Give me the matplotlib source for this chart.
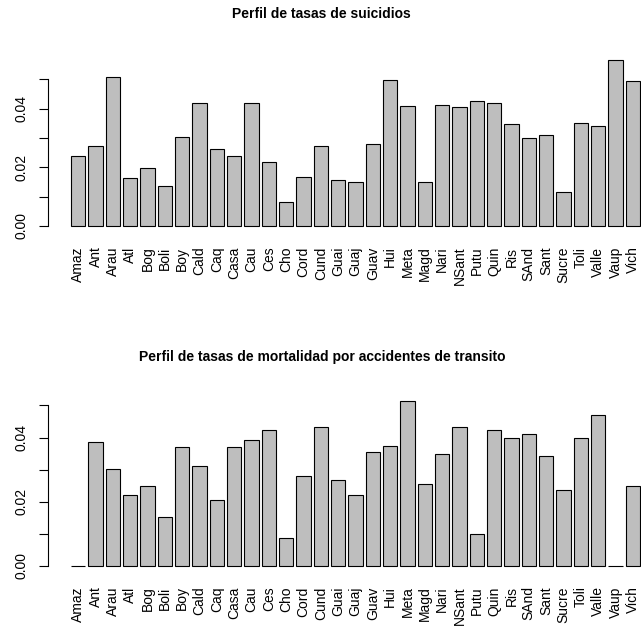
import matplotlib
matplotlib.use("Agg")
import matplotlib.pyplot as plt
import numpy as np

plt.rcParams["font.family"] = ["Liberation Sans", "DejaVu Sans"]

regiones = ["Amaz", "Ant", "Arau", "Atl", "Bog", "Boli", "Boy", "Cald", "Caq",
            "Casa", "Cau", "Ces", "Cho", "Cord", "Cund", "Guai", "Guaj", "Guav",
            "Hui", "Meta", "Magd", "Nari", "NSant", "Putu", "Quin", "Ris",
            "SAnd", "Sant", "Sucre", "Toli", "Valle", "Vaup", "Vich"]

suicidios = [0.0239, 0.0273, 0.0507, 0.0163, 0.0199, 0.0135, 0.0305, 0.0421,
             0.0264, 0.0239, 0.0418, 0.0219, 0.0081, 0.0168, 0.0273, 0.0158,
             0.0150, 0.0280, 0.0498, 0.0410, 0.0150, 0.0413, 0.0405, 0.0427,
             0.0419, 0.0348, 0.0299, 0.0311, 0.0115, 0.0350, 0.0340, 0.0565,
             0.0496]

transito = [0.0, 0.0386, 0.0301, 0.0222, 0.0249, 0.0152, 0.0371, 0.0311,
            0.0206, 0.0371, 0.0392, 0.0423, 0.0087, 0.0280, 0.0432, 0.0267,
            0.0222, 0.0354, 0.0374, 0.0515, 0.0255, 0.0348, 0.0432, 0.0100,
            0.0424, 0.0399, 0.0410, 0.0343, 0.0237, 0.0400, 0.0469, 0.0,
            0.0250]

titulos = ["Perfil de tasas de suicidios",
           "Perfil de tasas de mortalidad por accidentes de transito"]


def barplot_r(ax, valores, nombres):
    # mimic R barplot: width 1, space 0.2
    n = len(valores)
    centros = 0.2 + np.arange(n) * 1.2 + 0.5
    ax.bar(centros, valores, width=1.0, color="#bebebe", edgecolor="black",
           linewidth=0.8)
    lo, hi = 0.2, n * 1.2
    ext = (hi - lo) * 0.04
    ax.set_xlim(lo - ext, hi + ext)
    ymax = max(valores)
    ax.set_ylim(-ymax * 0.04, ymax * 1.04)
    for s in ["top", "right", "bottom"]:
        ax.spines[s].set_visible(False)
    ax.spines["left"].set_bounds(0, 0.05)
    ax.spines["left"].set_linewidth(0.8)
    ax.set_yticks([0, 0.01, 0.02, 0.03, 0.04, 0.05])
    ax.set_yticklabels(["0.00", "", "0.02", "", "0.04", ""], rotation=90,
                       va="center")
    ax.tick_params(axis="y", length=6.3, width=0.8, pad=8, labelsize=10)
    ax.set_xticks(centros)
    ax.set_xticklabels(nombres, rotation=90, va="top")
    ax.tick_params(axis="x", length=0, pad=10, labelsize=10)


fig = plt.figure(figsize=(6.41, 6.26), dpi=100)
ax1 = fig.add_axes([0.0752, 0.6284, 0.9588, 0.2858])
ax2 = fig.add_axes([0.0752, 0.0853, 0.9588, 0.2852])

barplot_r(ax1, suicidios, regiones)
barplot_r(ax2, transito, regiones)

fig.text(0.502, 1 - 14 / 626, titulos[0], ha="center", va="center",
         fontsize=10, fontweight="bold")
fig.text(0.502, 1 - 357 / 626, titulos[1], ha="center", va="center",
         fontsize=10, fontweight="bold")

fig.savefig("out.png", dpi=100)
